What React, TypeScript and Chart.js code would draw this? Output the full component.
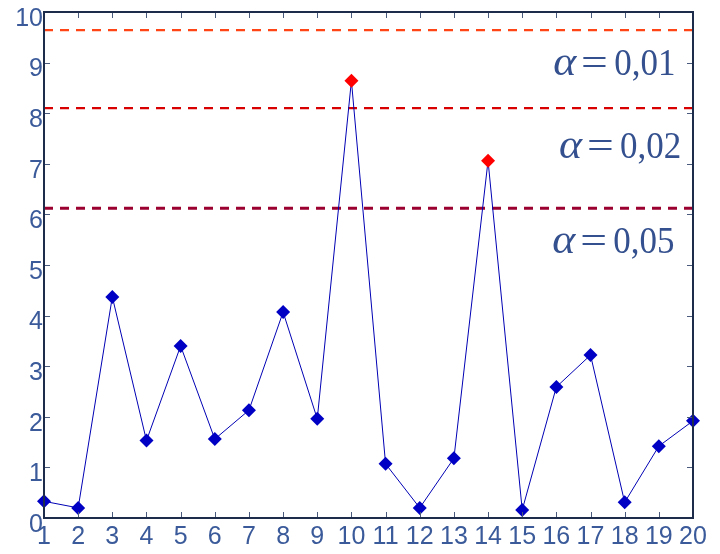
import React, { useEffect, useRef } from "react";
import { Chart, registerables } from "chart.js";

Chart.register(...registerables);

const categories = [1, 2, 3, 4, 5, 6, 7, 8, 9, 10, 11, 12, 13, 14, 15, 16, 17, 18, 19, 20];
const values = [0.33, 0.2, 4.37, 1.53, 3.4, 1.56, 2.13, 4.07, 1.96, 8.64, 1.07, 0.2, 1.18, 7.06, 0.16, 2.59, 3.22, 0.31, 1.42, 1.92];
const thresholds = [9.64, 8.1, 6.12];
const thresholdColors = ["#ff4515", "#d80000", "#9a0030"];
const thresholdWidths = [2.2, 2.4, 3];
const alphaLabels = ["0,01", "0,02", "0,05"];
const alphaLabelY = [8.75, 7.11, 5.24];
const alphaLabelX = [19.43, 19.6, 19.43];
const yTicks = [0, 1, 2, 3, 4, 5, 6, 7, 8, 9, 10];

const LABEL_COLOR = "#3a5a9a";
const AXIS_COLOR = "#1e2c4c";
const SERIF = "'Liberation Serif', 'Times New Roman', serif";

function drawInk(ctx: any, text: string, font: string, sx: number, inkRight: number, by: number) {
  ctx.font = font;
  ctx.textAlign = "left";
  const m = ctx.measureText(text);
  const ox = inkRight - sx * m.actualBoundingBoxRight;
  ctx.save();
  ctx.translate(ox, by);
  ctx.scale(sx, 1);
  ctx.fillText(text, 0, 0);
  ctx.restore();
  return ox - sx * m.actualBoundingBoxLeft;
}

const boxPlugin = {
  id: "boxTicks",
  afterDatasetsDraw(chart: any) {
    const { ctx, chartArea, scales } = chart;
    const x = scales.x;
    const y = scales.y;
    ctx.save();
    ctx.strokeStyle = "#4a5a7c";
    ctx.lineWidth = 1;
    const L = 6;
    for (const v of yTicks) {
      const py = Math.round(y.getPixelForValue(v)) + 0.5;
      ctx.beginPath();
      ctx.moveTo(chartArea.left, py);
      ctx.lineTo(chartArea.left + L, py);
      ctx.moveTo(chartArea.right, py);
      ctx.lineTo(chartArea.right - L, py);
      ctx.stroke();
    }
    for (const v of categories) {
      const px = Math.round(x.getPixelForValue(v)) + 0.5;
      ctx.beginPath();
      ctx.moveTo(px, chartArea.bottom);
      ctx.lineTo(px, chartArea.bottom - L);
      ctx.moveTo(px, chartArea.top);
      ctx.lineTo(px, chartArea.top + L);
      ctx.stroke();
    }
    ctx.strokeStyle = AXIS_COLOR;
    ctx.lineWidth = 2;
    ctx.strokeRect(chartArea.left, chartArea.top, chartArea.right - chartArea.left, chartArea.bottom - chartArea.top);

    // alpha labels
    ctx.fillStyle = "#34508e";
    ctx.textBaseline = "alphabetic";
    for (let i = 0; i < alphaLabels.length; i++) {
      const rx = x.getPixelForValue(alphaLabelX[i]);
      const by = y.getPixelForValue(alphaLabelY[i]);
      const numLeft = drawInk(ctx, alphaLabels[i], "38px " + SERIF, 0.92, rx, by);
      const eqLeft = drawInk(ctx, "=", "38px " + SERIF, 1.25, numLeft - 9, by);
      drawInk(ctx, "\u03b1", "italic 40px " + SERIF, 1.1, eqLeft - 5, by);
    }
    ctx.restore();
  },
};

export default function App() {
  const ref = useRef<HTMLCanvasElement | null>(null);
  useEffect(() => {
    if (!ref.current) return;
    const thresholdSets = thresholds.map((t, i) => ({
      type: "line" as const,
      data: [
        { x: categories[0], y: t },
        { x: categories[categories.length - 1], y: t },
      ],
      borderColor: thresholdColors[i],
      borderWidth: thresholdWidths[i],
      borderDash: [9, 7],
      pointRadius: 0,
      fill: false,
      order: 2,
    }));
    const chart = new Chart(ref.current, {
      type: "line",
      data: {
        datasets: [
          {
            data: categories.map((c, i) => ({ x: c, y: values[i] })),
            borderColor: "#0000b4",
            borderWidth: 1,
            pointStyle: "rectRot",
            pointRadius: 7,
            pointHoverRadius: 7,
            pointBorderWidth: 0,
            pointBackgroundColor: values.map((v) => (v > thresholds[2] ? "#ff0000" : "#0000c4")),
            pointBorderColor: values.map((v) => (v > thresholds[2] ? "#ff0000" : "#0000c4")),
            tension: 0,
            clip: false as any,
            order: 1,
          },
          ...thresholdSets,
        ] as any,
      },
      options: {
        animation: false,
        responsive: true,
        maintainAspectRatio: false,
        layout: { padding: { top: 12, right: 27, left: 0, bottom: 0 } },
        plugins: { legend: { display: false }, tooltip: { enabled: false } },
        scales: {
          x: {
            type: "linear",
            min: 1,
            max: 20,
            grid: { display: false, drawTicks: false },
            border: { display: false },
            ticks: {
              stepSize: 1,
              autoSkip: false,
              maxRotation: 0,
              padding: 4,
              color: LABEL_COLOR,
              font: { size: 25, family: "'Liberation Sans', Arial, sans-serif" },
            },
            afterFit: (s: any) => {
              s.height = 36;
              s.paddingLeft = 0;
              s.paddingRight = 0;
            },
          },
          y: {
            min: 0,
            max: 10,
            grid: { display: false, drawTicks: false },
            border: { display: false },
            ticks: {
              stepSize: 1,
              padding: 1,
              labelOffset: 7,
              color: LABEL_COLOR,
              font: { size: 25, family: "'Liberation Sans', Arial, sans-serif" },
            },
            afterFit: (s: any) => {
              s.width = 44;
              s.paddingTop = 0;
              s.paddingBottom = 0;
            },
          },
        },
      },
      plugins: [boxPlugin],
    });
    return () => chart.destroy();
  }, []);
  return (
    <div style={{ position: "absolute", left: 0, top: 0, width: 720, height: 554, background: "#fff" }}>
      <canvas ref={ref} />
    </div>
  );
}
